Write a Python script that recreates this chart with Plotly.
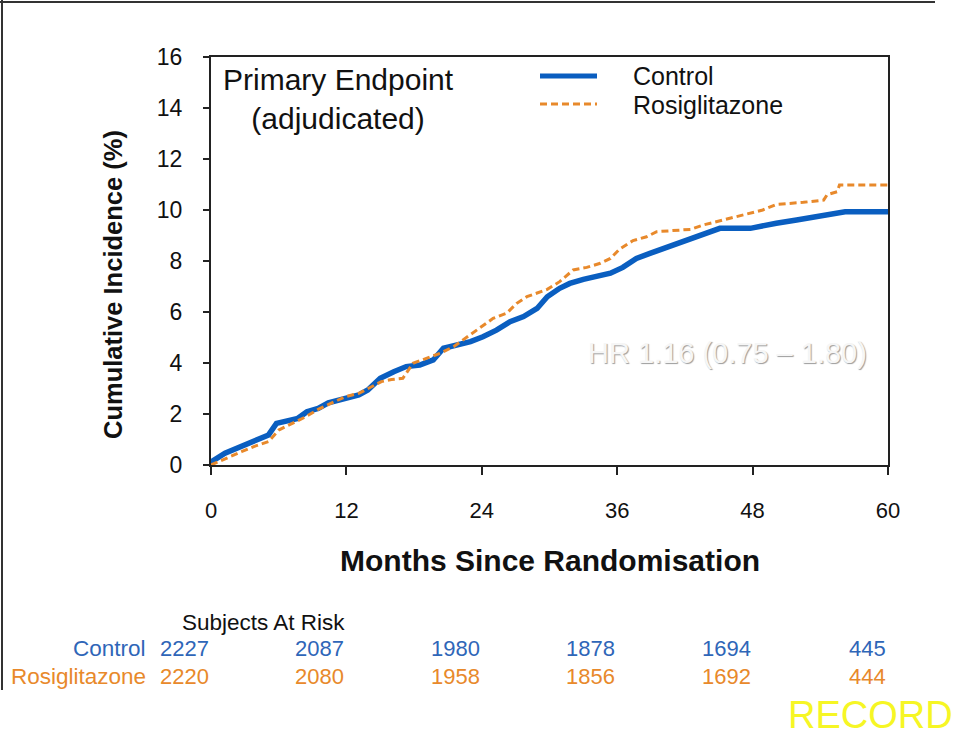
import plotly.graph_objects as go

# ---- data ----
months_control = [0, 0.06, 1.24, 2.42, 3.3, 4.2, 5.1, 5.8, 6.85, 7.7, 8.5, 9.5, 10.4, 11.3, 12.2, 13.1,
                  13.9, 14.8, 15.0, 16.2, 17.3, 18.5, 19.7, 20.6, 21.8, 23.0, 24.1, 25.3, 26.5, 27.7,
                  28.9, 29.8, 30.9, 31.8, 33.0, 34.2, 35.4, 36.5, 37.7, 38.9, 40.1, 41.3, 42.5, 43.6,
                  45.1, 47.8, 48.7, 50.1, 51.9, 54.0, 56.2, 60]
incidence_control = [0, 0.13, 0.46, 0.69, 0.85, 1.0, 1.18, 1.63, 1.76, 1.83, 2.09, 2.22, 2.44, 2.55, 2.61, 2.75,
                     2.94, 3.27, 3.40, 3.66, 3.86, 3.92, 4.12, 4.58, 4.71, 4.84, 5.03, 5.29, 5.62, 5.82,
                     6.14, 6.60, 6.93, 7.12, 7.28, 7.38, 7.52, 7.75, 8.10, 8.30, 8.50, 8.69, 8.85, 9.06,
                     9.28, 9.28, 9.37, 9.48, 9.61, 9.76, 9.93, 9.93]

months_rosi = [0, 0.2, 1.5, 2.7, 3.9, 5.1, 6.0, 7.15, 8.3, 9.5, 10.7, 11.9, 13.1, 14.2, 15.1, 16.0, 17.0,
               17.9, 19.1, 20.3, 21.5, 22.7, 23.8, 25.0, 26.2, 27.1, 28.0, 28.9, 29.8, 30.9, 32.1, 33.3,
               34.5, 35.4, 36.2, 37.4, 38.6, 39.5, 41.0, 42.5, 43.6, 44.8, 45.4, 47.2, 48.9, 50.1, 52.5,
               54.3, 54.6, 55.5, 55.7, 60]
incidence_rosi = [0, 0.04, 0.30, 0.52, 0.74, 0.92, 1.37, 1.63, 1.87, 2.18, 2.42, 2.68, 2.81, 3.07, 3.27, 3.35, 3.40,
                  3.99, 4.18, 4.38, 4.64, 5.01, 5.36, 5.75, 5.95, 6.34, 6.60, 6.76, 6.89, 7.19, 7.65, 7.75,
                  7.91, 8.10, 8.46, 8.80, 8.95, 9.15, 9.19, 9.24, 9.41, 9.54, 9.63, 9.80, 10.0, 10.22, 10.30,
                  10.39, 10.6, 10.72, 10.98, 10.98]

x_ticks = [0, 12, 24, 36, 48, 60]
y_ticks = [0, 2, 4, 6, 8, 10, 12, 14, 16]
at_risk_control = [2227, 2087, 1980, 1878, 1694, 445]
at_risk_rosi = [2220, 2080, 1958, 1856, 1692, 444]

BLUE = "#0A5EC0"
ORANGE = "#E8892B"
BLUE_TXT = "#2F66B8"
ORANGE_TXT = "#E8892B"
FONT = "Arial, Liberation Sans, sans-serif"

# layout geometry (pixels)
W, H = 960, 736
L, R, T, B = 211, 888, 57, 465
PW, PH = R - L, B - T


def px(xp):
    return (xp - L) / PW


def py(yp):
    return (B - yp) / PH


fig = go.Figure()
fig.add_trace(go.Scatter(x=months_control, y=incidence_control, mode="lines",
                         line=dict(color=BLUE, width=5.5), name="Control", showlegend=False))
fig.add_trace(go.Scatter(x=months_rosi, y=incidence_rosi, mode="lines",
                         line=dict(color=ORANGE, width=3, dash="7px,4px"), name="Rosiglitazone",
                         showlegend=False))

ann = []
shapes = []

# legend drawn manually
shapes.append(dict(type="line", xref="paper", yref="paper", x0=px(540), x1=px(597), y0=py(76), y1=py(76),
                   line=dict(color=BLUE, width=5)))
shapes.append(dict(type="line", xref="paper", yref="paper", x0=px(540), x1=px(597), y0=py(104), y1=py(104),
                   line=dict(color=ORANGE, width=3, dash="7px,4px")))
ann.append(dict(text="Control", xref="paper", yref="paper", x=px(631), y=py(76), xanchor="left",
                yanchor="middle", showarrow=False, font=dict(family=FONT, size=25, color="#111")))
ann.append(dict(text="Rosiglitazone", xref="paper", yref="paper", x=px(631), y=py(105), xanchor="left",
                yanchor="middle", showarrow=False, font=dict(family=FONT, size=25, color="#111")))

ann.append(dict(text="Primary Endpoint<br>(adjudicated)", xref="paper", yref="paper", x=px(338), y=py(99),
                xanchor="center", yanchor="middle", align="center", showarrow=False,
                font=dict(family=FONT, size=30, color="#111")))

ann.append(dict(text="HR 1.16 (0.75 – 1.80)", xref="paper", yref="paper", x=px(727), y=py(353),
                xanchor="center", yanchor="middle", showarrow=False,
                font=dict(family=FONT, size=29, color="#f6f6f6", shadow="1px 1px 1px #9c9c9c")))

# axis titles
ann.append(dict(text="<b>Months Since Randomisation</b>", xref="paper", yref="paper", x=px(550), y=py(560),
                xanchor="center", yanchor="middle", showarrow=False, font=dict(family=FONT, size=30, color="#111")))
ann.append(dict(text="<b>Cumulative Incidence (%)</b>", xref="paper", yref="paper", x=px(113), y=py(285),
                xanchor="center", yanchor="middle", textangle=-90, showarrow=False,
                font=dict(family=FONT, size=25.5, color="#111")))

# at-risk table
ann.append(dict(text="Subjects At Risk", xref="paper", yref="paper", x=px(180), y=py(622), xanchor="left",
                yanchor="middle", showarrow=False, font=dict(family=FONT, size=22.5, color="#111")))
ann.append(dict(text="Control", xref="paper", yref="paper", x=px(148), y=py(648), xanchor="right",
                yanchor="middle", showarrow=False, font=dict(family=FONT, size=22.5, color=BLUE_TXT)))
ann.append(dict(text="Rosiglitazone", xref="paper", yref="paper", x=px(148), y=py(676), xanchor="right",
                yanchor="middle", showarrow=False, font=dict(family=FONT, size=22.5, color=ORANGE_TXT)))
for m, c, r in zip(x_ticks, at_risk_control, at_risk_rosi):
    ann.append(dict(text=str(c), xref="x", yref="paper", x=m, y=py(648), xanchor="right", yanchor="middle",
                    showarrow=False, font=dict(family=FONT, size=22, color=BLUE_TXT)))
    ann.append(dict(text=str(r), xref="x", yref="paper", x=m, y=py(676), xanchor="right", yanchor="middle",
                    showarrow=False, font=dict(family=FONT, size=22, color=ORANGE_TXT)))

ann.append(dict(text="RECORD", xref="paper", yref="paper", x=px(954), y=py(715), xanchor="right",
                yanchor="middle", showarrow=False, borderpad=0,
                font=dict(family=FONT, size=38, color="#F6F624")))

# slide frame
shapes.append(dict(type="line", xref="paper", yref="paper", x0=px(0), x1=px(935), y0=py(2), y1=py(2),
                   line=dict(color="#333", width=2)))
shapes.append(dict(type="line", xref="paper", yref="paper", x0=px(2), x1=px(2), y0=py(0), y1=py(690),
                   line=dict(color="#333", width=2)))

fig.update_layout(
    width=W, height=H,
    margin=dict(l=L, r=W - R, t=T, b=H - B, autoexpand=False),
    paper_bgcolor="white", plot_bgcolor="white",
    showlegend=False,
    annotations=ann, shapes=shapes,
    font=dict(family=FONT, color="#111"),
)
fig.update_xaxes(range=[0, 60], tickvals=x_ticks, ticks="outside", ticklen=8, tickwidth=1.5,
                 tickcolor="#222", showline=True, linecolor="#222", linewidth=2, mirror=True,
                 showgrid=False, zeroline=False, tickfont=dict(family=FONT, size=22, color="#111"),
                 ticklabelstandoff=17)
fig.update_yaxes(range=[0, 16], tickvals=y_ticks, ticks="outside", ticklen=6, tickwidth=1.5,
                 tickcolor="#222", showline=True, linecolor="#222", linewidth=2, mirror=True,
                 showgrid=False, zeroline=False, tickfont=dict(family=FONT, size=23, color="#111"),
                 ticklabelstandoff=16)

fig.write_html("out.html", config={"displayModeBar": False},
               post_script="document.body.style.margin='0';document.body.style.overflow='hidden';")
